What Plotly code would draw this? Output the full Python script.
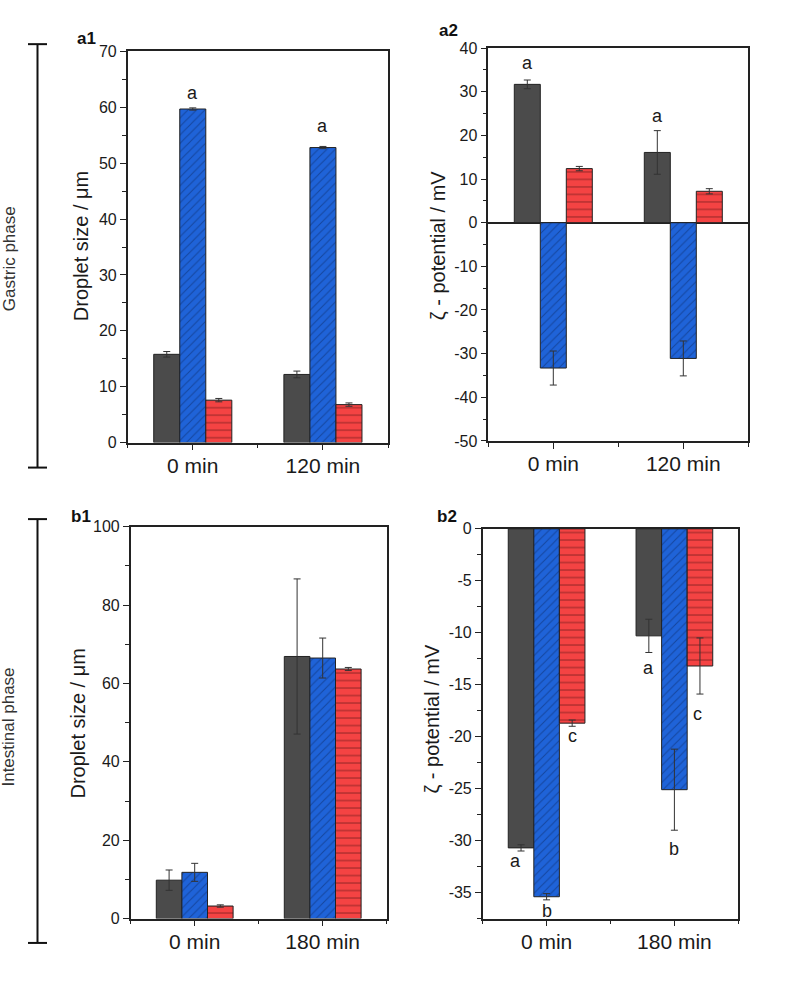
import plotly.graph_objects as go

W, H = 787, 981
# empirical vertical mapping of the captured page: shown_y = SY * page_y + OY
SY = 0.984
OY = 6.5

# ---------------- data ----------------
series = ["grey", "blue", "red"]

a1_cats = ["0 min", "120 min"]
a1_grey = [15.8, 12.2]
a1_grey_err = [0.5, 0.6]
a1_blue = [59.7, 52.8]
a1_blue_err = [0.2, 0.2]
a1_red = [7.6, 6.8]
a1_red_err = [0.3, 0.3]
a1_yticks = [0, 10, 20, 30, 40, 50, 60, 70]

a2_cats = ["0 min", "120 min"]
a2_grey = [31.7, 16.1]
a2_grey_err = [1.0, 5.0]
a2_blue = [-33.3, -31.1]
a2_blue_err = [3.9, 4.0]
a2_red = [12.4, 7.2]
a2_red_err = [0.5, 0.6]
a2_yticks = [-50, -40, -30, -20, -10, 0, 10, 20, 30, 40]

b1_cats = ["0 min", "180 min"]
b1_grey = [9.8, 66.9]
b1_grey_err = [2.6, 19.8]
b1_blue = [11.8, 66.5]
b1_blue_err = [2.3, 5.1]
b1_red = [3.2, 63.7]
b1_red_err = [0.3, 0.4]
b1_yticks = [0, 20, 40, 60, 80, 100]

b2_cats = ["0 min", "180 min"]
b2_grey = [-30.7, -10.3]
b2_grey_err = [0.3, 1.6]
b2_blue = [-35.4, -25.1]
b2_blue_err = [0.3, 3.9]
b2_red = [-18.7, -13.2]
b2_red_err = [0.3, 2.7]
b2_yticks = [-35, -30, -25, -20, -15, -10, -5, 0]

# significance letters: (x position, y value, letter)
a1_letters = [(0.0, 62.5, "a"), (1.0, 56.6, "a")]
a2_letters = [(-0.2, 36.5, "a"), (0.8, 24.4, "a")]
b2_letters = [(-0.24, -32.0, "a"), (0.0, -36.8, "b"), (0.2, -19.9, "c"),
              (0.8, -13.4, "a"), (1.0, -30.8, "b"), (1.18, -17.8, "c")]

# ---------------- styling ----------------
GREY = "#4b4b4b"
BLUE = "#1f63d8"
RED = "#f44343"
EDGE = "#222222"
FONT = "Liberation Sans, Arial, sans-serif"
TXT = "#1a1a1a"

def px_x(p):
    return p / W

def px_y(p):
    return 1 - ((p - OY) / SY) / H

panels = {
    "a1": dict(ax="", x=(127.7, 388.0), y=(441.7, 50.0), rng=[0, 70], yt=a1_yticks, minor=5,
               cats=a1_cats, data=[(a1_grey, a1_grey_err), (a1_blue, a1_blue_err), (a1_red, a1_red_err)],
               title="Droplet size / μm", tpos=(81, 245), letters=a1_letters, zero=False),
    "a2": dict(ax="2", x=(488.3, 748.3), y=(440.0, 46.7), rng=[-50, 40], yt=a2_yticks, minor=5,
               cats=a2_cats, data=[(a2_grey, a2_grey_err), (a2_blue, a2_blue_err), (a2_red, a2_red_err)],
               title="ζ - potential / mV", tpos=(438, 244), letters=a2_letters, zero=True),
    "b1": dict(ax="3", x=(130.7, 386.7), y=(918.3, 526.0), rng=[0, 100], yt=b1_yticks, minor=10,
               cats=b1_cats, data=[(b1_grey, b1_grey_err), (b1_blue, b1_blue_err), (b1_red, b1_red_err)],
               title="Droplet size / μm", tpos=(78, 723), letters=[], zero=False),
    "b2": dict(ax="4", x=(482.7, 738.3), y=(918.3, 528.0), rng=[-37.5, 0], yt=b2_yticks, minor=2.5,
               cats=b2_cats, data=[(b2_grey, b2_grey_err), (b2_blue, b2_blue_err), (b2_red, b2_red_err)],
               title="ζ - potential / mV", tpos=(432, 718), letters=b2_letters, zero=False),
}

fig = go.Figure()
annotations = []
layout = {}

colors = [GREY, BLUE, RED]
patterns = [
    dict(shape=""),
    dict(shape="/", fgcolor="#0b2a66", bgcolor=BLUE, size=6, solidity=0.18),
    dict(shape="-", fgcolor="#4a1010", bgcolor=RED, size=7.5, solidity=0.15),
]

for name, p in panels.items():
    ax = p["ax"]
    xref = "x" + ax
    yref = "y" + ax
    for i, (vals, errs) in enumerate(p["data"]):
        fig.add_trace(go.Bar(
            x=[0, 1], y=vals, xaxis=xref, yaxis=yref,
            marker=dict(color=colors[i], line=dict(color=EDGE, width=1), pattern=patterns[i]),
            error_y=dict(type="data", array=errs, color="#333333", thickness=1, width=3.5),
            showlegend=False, name=series[i],
        ))
    layout["xaxis" + ax] = dict(
        domain=[px_x(p["x"][0]), px_x(p["x"][1])], anchor=yref,
        range=[-0.5, 1.5], tickmode="array", tickvals=[0, 1], ticktext=p["cats"],
        ticks="outside", ticklen=6, tickwidth=1.3, tickcolor="#222",
        showline=True, linecolor="#222", linewidth=1.5, mirror=True,
        showgrid=False, zeroline=False, ticklabelstandoff=-3,
        tickfont=dict(family=FONT, size=21, color=TXT),
        minor=dict(tickmode="array", tickvals=[-0.5, 0.5, 1.5], ticks="outside", ticklen=4,
                   tickcolor="#222", tickwidth=1.3),
    )
    layout["yaxis" + ax] = dict(
        domain=[px_y(p["y"][0]), px_y(p["y"][1])], anchor=xref,
        range=p["rng"], tickmode="array", tickvals=p["yt"], ticktext=[str(v) for v in p["yt"]],
        ticks="outside", ticklen=6, tickwidth=1.3, tickcolor="#222",
        showline=True, linecolor="#222", linewidth=1.5, mirror=True,
        showgrid=False,
        zeroline=p["zero"], zerolinecolor="#222", zerolinewidth=1.5,
        tickfont=dict(family=FONT, size=16, color=TXT),
        minor=dict(dtick=p["minor"], tick0=0, ticks="outside", ticklen=3.5,
                   tickcolor="#222", tickwidth=1.2),
    )
    annotations.append(dict(
        text=p["title"], x=px_x(p["tpos"][0]), y=px_y(p["tpos"][1]), xref="paper", yref="paper",
        textangle=-90, showarrow=False, xanchor="center", yanchor="middle",
        font=dict(family=FONT, size=20, color=TXT),
    ))
    for (lx, ly, lt) in p["letters"]:
        annotations.append(dict(
            text=lt, x=lx, y=ly, xref=xref, yref=yref, showarrow=False,
            xanchor="center", yanchor="middle", font=dict(family=FONT, size=18, color=TXT),
        ))

# panel labels
for lbl, (lx, ly) in {"a1": (86, 37), "a2": (448, 29), "b1": (81, 516), "b2": (447, 516)}.items():
    annotations.append(dict(
        text="<b>%s</b>" % lbl, x=px_x(lx), y=px_y(ly), xref="paper", yref="paper",
        showarrow=False, xanchor="center", yanchor="middle",
        font=dict(family=FONT, size=17, color="#111"),
    ))

# phase labels
for txt, yc in [("Gastric phase", 258), ("Intestinal phase", 727)]:
    annotations.append(dict(
        text=txt, x=px_x(9), y=px_y(yc), xref="paper", yref="paper", textangle=-90,
        showarrow=False, xanchor="center", yanchor="middle",
        font=dict(family=FONT, size=17, color="#333"),
    ))

# brackets
shapes = []
for (top, bot) in [(42.7, 466.7), (518.3, 942.7)]:
    shapes.append(dict(type="line", xref="paper", yref="paper", x0=px_x(37.5), x1=px_x(37.5),
                       y0=px_y(top), y1=px_y(bot), line=dict(color="#111", width=2)))
    for yy in (top, bot):
        shapes.append(dict(type="line", xref="paper", yref="paper", x0=px_x(28), x1=px_x(47),
                           y0=px_y(yy), y1=px_y(yy), line=dict(color="#111", width=2)))

fig.update_layout(
    width=W, height=H, margin=dict(l=0, r=0, t=0, b=0),
    paper_bgcolor="white", plot_bgcolor="white",
    barmode="group", bargap=0.4, bargroupgap=0,
    annotations=annotations, shapes=shapes,
    font=dict(family=FONT),
    **layout,
)

fig.write_html(
    "out.html",
    config={"displayModeBar": False},
    post_script="document.body.style.margin='0';document.body.style.padding='0';document.body.style.overflow='hidden';",
)
